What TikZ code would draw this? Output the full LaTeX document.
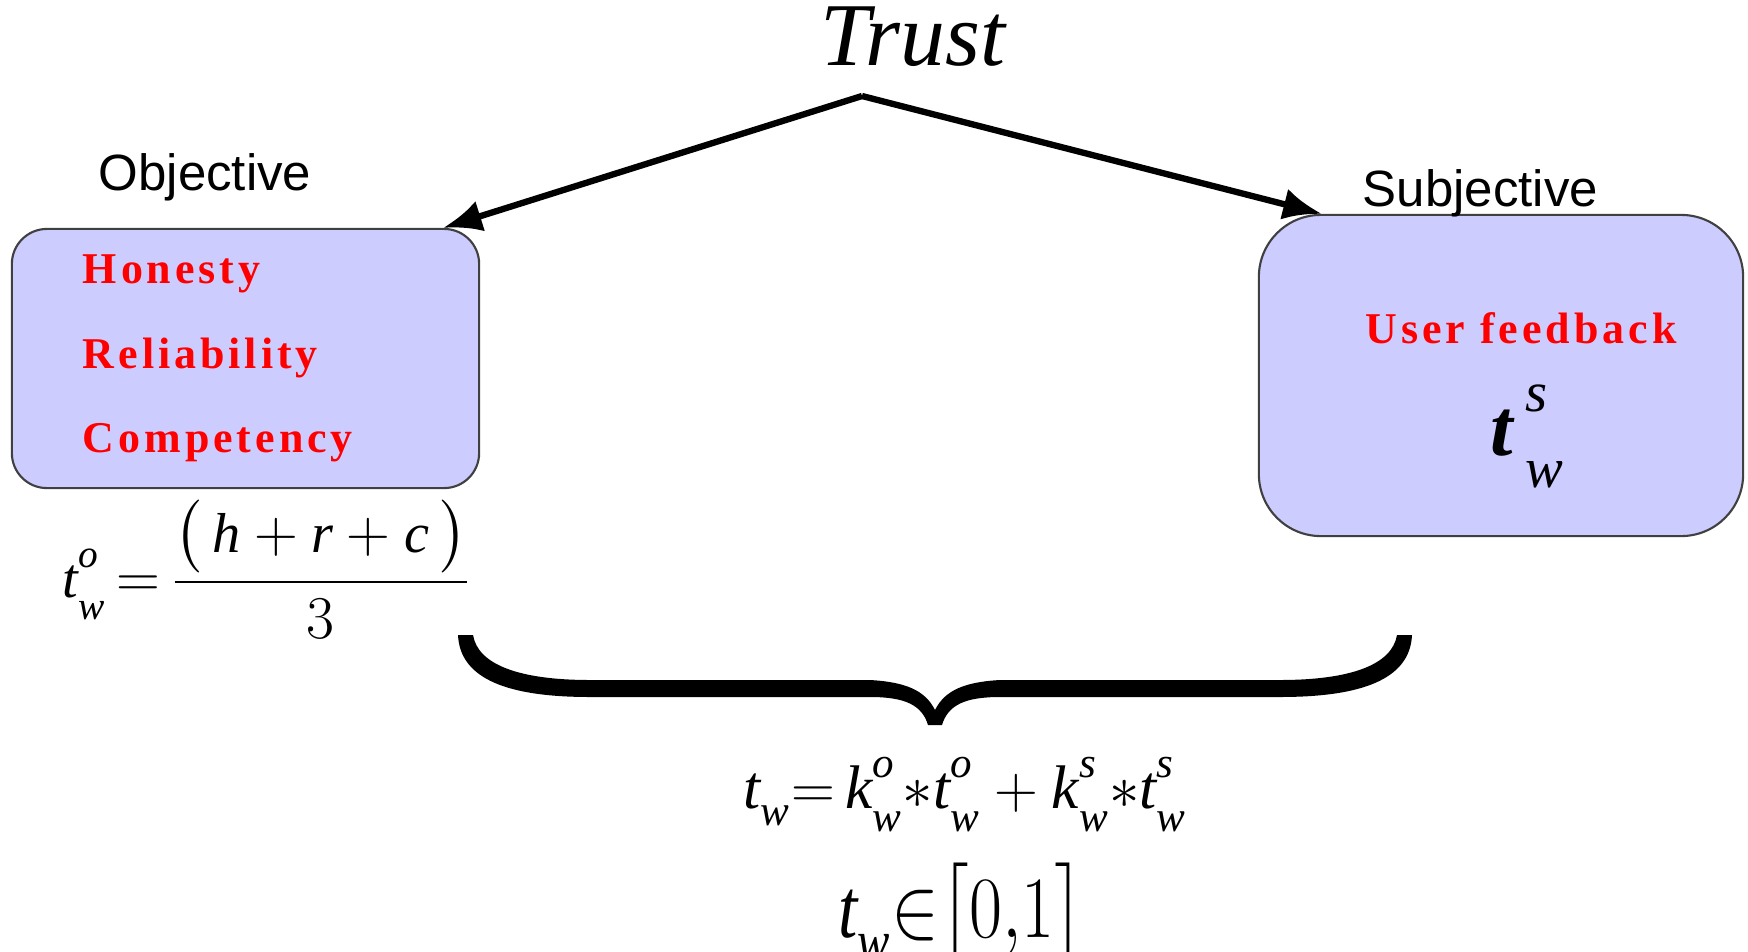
\documentclass[tikz,border=0pt]{standalone}
\usepackage{amsmath}
\usepackage{fontspec}
\setmainfont{Liberation Serif}
\newfontfamily\arialfont{Liberation Sans}
\usetikzlibrary{arrows.meta,positioning,calc}
\definecolor{boxfill}{RGB}{204,204,255}
\newcommand{\hi}[1]{\raisebox{0.14em}{$\scriptstyle\mathit{#1}$}}
\newcommand{\lo}[1]{\raisebox{-0.14em}{$\scriptstyle\mathit{#1}$}}
\newcommand{\tsym}[1]{\mathit{t}^{\hi{#1}}_{\lo{w}}}
\tikzset{
  pbox/.style={rectangle, draw=black!75, line width=0.6pt, fill=boxfill},
  factor/.style={inner sep=0pt, text=red,
    font=\fontsize{12.5}{24}\selectfont\bfseries\addfontfeature{LetterSpace=9}},
  side/.style={inner sep=0pt, font=\arialfont\fontsize{14.5}{17}\selectfont},
  eqn/.style={inner sep=0pt}
}

\begin{document}
\begin{tikzpicture}[x=0.01cm, y=-0.01cm]

\tikzset{
toarr/.style={-{Latex[length=11pt,width=9pt]}, line width=1.8pt}
}

\useasboundingbox (0,0) rectangle (1748,951);

\node[inner sep=0pt, anchor=base, font=\itshape\fontsize{25.5}{30}\selectfont] (trust) at (913,65) {Trust};
\coordinate (apex) at (862,96);

%OBJECTIVE
\node[pbox, rounded corners=0.35cm, minimum width=4.67cm, minimum height=2.59cm,
  text width=3.25cm, inner xsep=0.71cm, align=left, factor] (objbox) at (245.5,358.5) {
  Honesty\\ Reliability\\ Competency
};
\node[side, anchor=base west] (objlbl) at (98,190) {Objective};

\node[eqn, anchor=base west, font=\fontsize{16}{19}\selectfont] (tobj) at (62,597)
  {$\tsym{o}\,{=}\,\dfrac{\bigl(\,\mathit{h}+\mathit{r}+\mathit{c}\,\bigr)}{3}$};

%SUBJECTIVE
\node[pbox, rounded corners=0.62cm, minimum width=4.84cm, minimum height=3.21cm] (subjbox) at (1501,375.5) {};
\node[side, anchor=base west] (subjlbl) at (1362,206) {Subjective};
\node[factor, anchor=base west] (feedback) at (1365,343) {User feedback};
\node[eqn, anchor=base west, font=\fontsize{23}{27}\selectfont] (tsub) at (1490,455)
  {$\textbf{\textit{t}}^{\,\hi{s}}_{\,\lo{w}}$};

\draw[toarr] (apex) -- ($(objbox.north east)+(-37,0)$);
\draw[toarr] (apex) -- ($(subjbox.north west)+(64,0)$);

%BRACE
\fill[black] (458,635) -- (473,635)
  .. controls (478,665) and (520,680) .. (590,680) -- (870,680)
  .. controls (905,682) and (925,690) .. (935,710)
  .. controls (945,690) and (965,682) .. (1000,680) -- (1280,680)
  .. controls (1350,680) and (1392,665) .. (1397,635) -- (1412,635)
  .. controls (1410,680) and (1360,697) .. (1280,697) -- (1000,697)
  .. controls (965,697) and (948,705) .. (942,725) -- (928,725)
  .. controls (922,705) and (905,697) .. (870,697) -- (590,697)
  .. controls (510,697) and (460,680) .. (458,635) -- cycle;

%TOTAL
\node[eqn, anchor=base west, font=\fontsize{17.5}{21}\selectfont] (total) at (743,808)
  {$\mathit{t}_{\lo{w}}{=}\,\mathit{k}^{\hi{o}}_{\lo{w}}{\ast}\tsym{o}+\mathit{k}^{\hi{s}}_{\lo{w}}{\ast}\tsym{s}$};
\node[eqn, anchor=base west, xscale=0.82, transform shape, font=\fontsize{24}{28}\selectfont] (range) at (838,937)
  {$\mathit{t}_{\lo{w}}{\in}\bigl[0{,}1\bigr]$};

\end{tikzpicture}
\end{document}
